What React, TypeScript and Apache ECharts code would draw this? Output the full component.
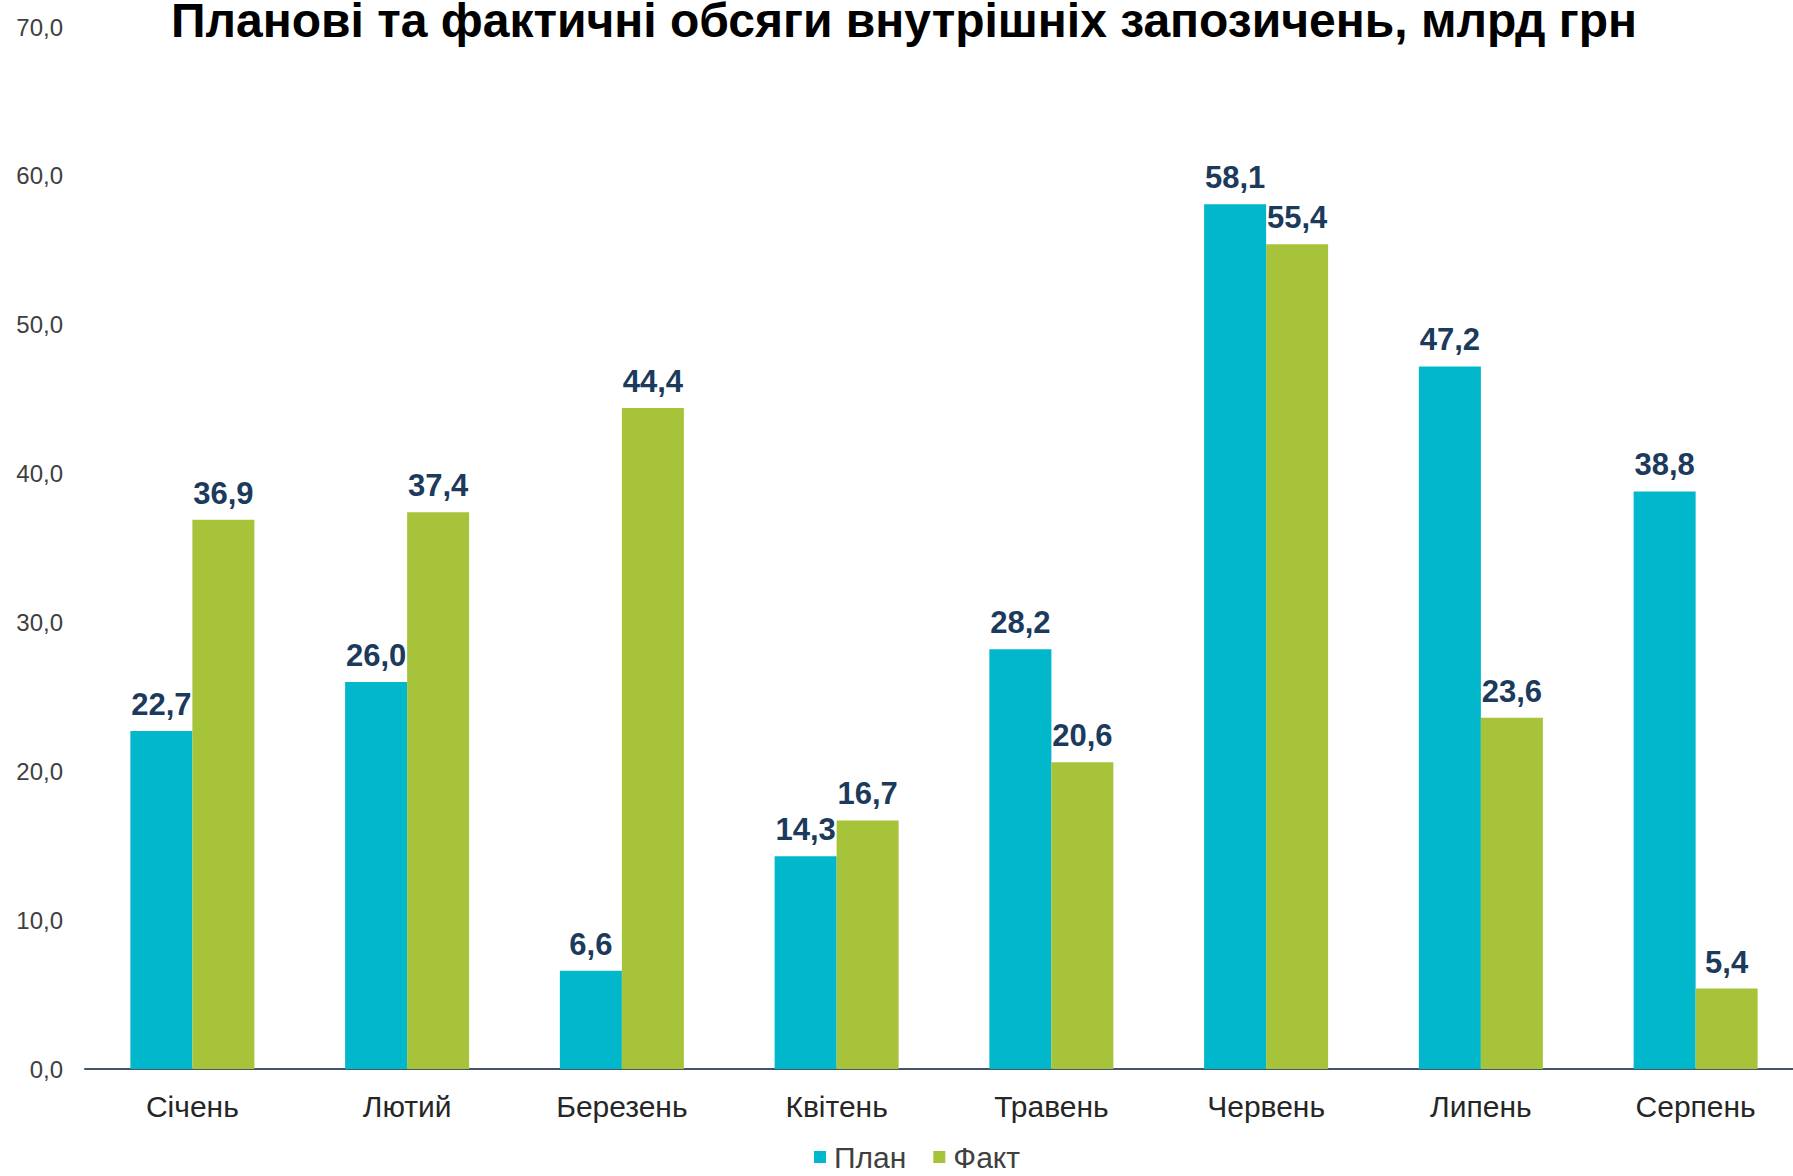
import React, { useEffect, useRef } from "react";
import * as echarts from "echarts";

const categories = ["Січень", "Лютий", "Березень", "Квітень", "Травень", "Червень", "Липень", "Серпень"];
const planValues = [22.7, 26.0, 6.6, 14.3, 28.2, 58.1, 47.2, 38.8];
const factValues = [36.9, 37.4, 44.4, 16.7, 20.6, 55.4, 23.6, 5.4];
const seriesNames = ["План", "Факт"];
const titleText = "Планові та фактичні обсяги внутрішніх запозичень, млрд грн";

const fmt = (v: number) => Number(v).toFixed(1).replace(".", ",");

export default function App() {
  const ref = useRef<HTMLDivElement>(null);
  useEffect(() => {
    if (!ref.current) return;
    const chart = echarts.init(ref.current, undefined, { renderer: "svg" });
    const labelStyle = {
      show: true,
      position: "top" as const,
      distance: 11,
      formatter: (p: any) => fmt(p.value),
      color: "#1B3A5C",
      fontFamily: "Liberation Sans, Arial, sans-serif",
      fontWeight: "bold" as const,
      fontSize: 31,
    };
    chart.setOption({
      animation: false,
      backgroundColor: "#ffffff",
      title: {
        text: titleText,
        left: 171,
        top: 4,
        padding: 0,
        textStyle: {
          fontFamily: "Liberation Sans, Arial, sans-serif",
          fontWeight: "bold",
          fontSize: 48,
          lineHeight: 32,
          color: "#000000",
        },
      },
      legend: {
        data: seriesNames,
        left: 809,
        top: 1137,
        icon: "rect",
        itemWidth: 12,
        itemHeight: 12,
        itemGap: 27,
        textStyle: {
          fontFamily: "Liberation Sans, Arial, sans-serif",
          fontSize: 30,
          color: "#404040",
          padding: [0, 0, 0, 3],
        },
      },
      grid: { left: 85, right: 0, top: 27, bottom: 107, containLabel: false },
      xAxis: {
        type: "category",
        data: categories,
        axisLine: { show: true, lineStyle: { color: "#44546A", width: 2 } },
        axisTick: { show: false },
        axisLabel: {
          margin: 22,
          fontFamily: "Liberation Sans, Arial, sans-serif",
          fontSize: 30,
          color: "#262626",
        },
      },
      yAxis: {
        type: "value",
        min: 0,
        max: 70,
        interval: 10,
        axisLine: { show: false },
        axisTick: { show: false },
        splitLine: { show: false },
        axisLabel: {
          margin: 22,
          formatter: (v: number) => fmt(v),
          fontFamily: "Liberation Sans, Arial, sans-serif",
          fontSize: 24,
          color: "#404040",
        },
      },
      series: [
        {
          name: seriesNames[0],
          type: "bar",
          data: planValues,
          barWidth: 62,
          barGap: "0%",
          itemStyle: { color: "#00B7CC" },
          label: labelStyle,
        },
        {
          name: seriesNames[1],
          type: "bar",
          data: factValues,
          barWidth: 62,
          barGap: "0%",
          itemStyle: { color: "#A6C33A" },
          label: labelStyle,
        },
      ],
    });
    return () => chart.dispose();
  }, []);
  return (
    <div style={{ position: "fixed", left: 0, top: 0, width: "1793px", height: "1176px", overflow: "hidden", background: "#fff" }}>
      <div ref={ref} style={{ position: "absolute", left: 0, top: 0, width: "1803px", height: "1176px" }} />
    </div>
  );
}
